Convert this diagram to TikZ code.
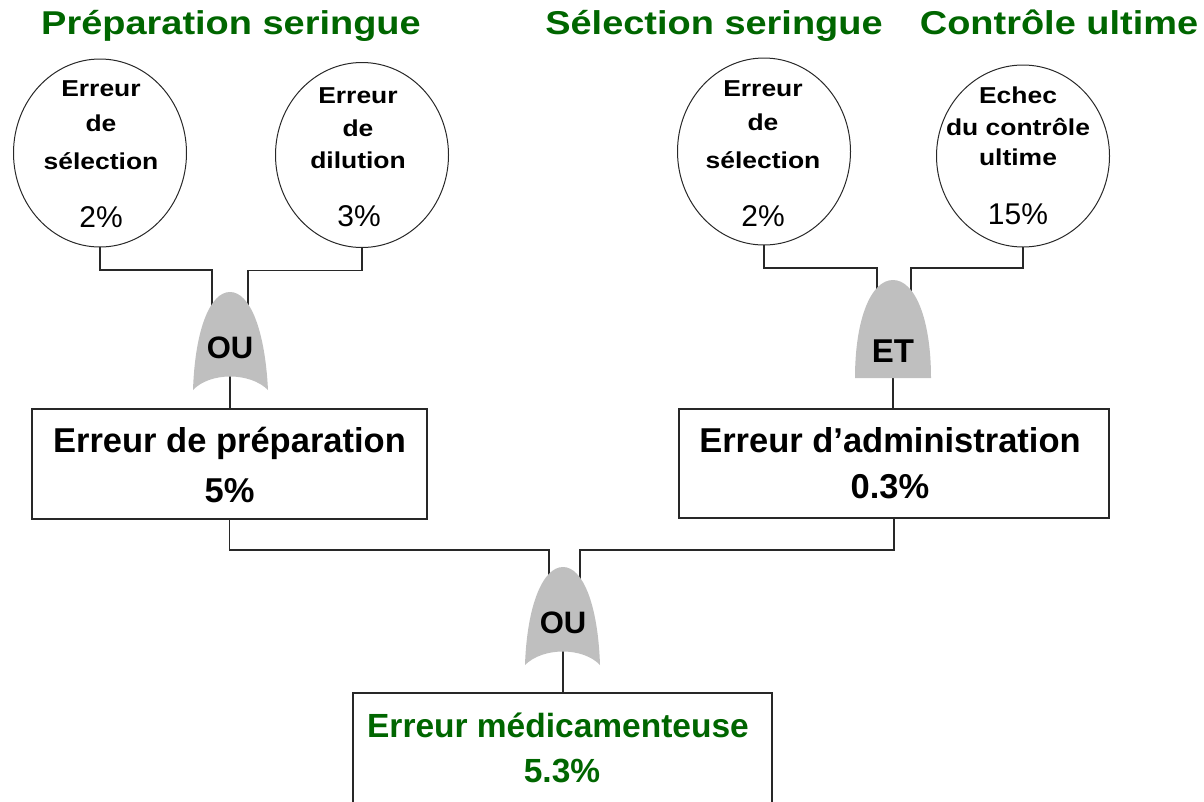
\documentclass[tikz,border=0pt]{standalone}
\usepackage{fontspec}
\setmainfont{Liberation Sans}
\newfontfamily\widesans[FakeStretch=1.15]{Liberation Sans}
\usetikzlibrary{shapes.geometric,backgrounds}
\definecolor{titlegreen}{RGB}{0,102,0}
\definecolor{gatefill}{RGB}{191,191,191}
\definecolor{linegray}{RGB}{40,40,40}
\begin{document}
\begin{tikzpicture}[x=1pt,y=-1pt,
  every node/.style={inner sep=0pt, outer sep=0pt},
  title/.style={anchor=base, text=titlegreen, font=\widesans\bfseries\fontsize{33}{36}\selectfont},
  event/.style={draw=linegray, line width=1pt, ellipse, minimum width=173pt},
  evtxt/.style={anchor=base, font=\widesans\bfseries\fontsize{23}{26}\selectfont},
  evpct/.style={anchor=base, font=\fontsize{30}{34}\selectfont},
  result/.style={draw=linegray, line width=1.3pt, rectangle, fill=white},
  restxt/.style={anchor=base, font=\bfseries\fontsize{34.5}{38}\selectfont},
  gatetxt/.style={anchor=base, font=\bfseries\fontsize{31}{34}\selectfont},
  link/.style={draw=linegray, line width=1.2pt},
  gateshape/.style={fill=gatefill, draw=none}
]
\useasboundingbox (0,0) rectangle (1204,801);
\clip (0,0) rectangle (1204,801);

% titles
\node[title] (t1) at (231,34) {Préparation seringue};
\node[title] (t2) at (714,34) {Sélection seringue};
\node[title] (t3) at (1059,34) {Contrôle ultime};

% basic events
\node[event, minimum height=188pt] (c1) at (100,153) {};
\node[event, minimum height=185pt] (c2) at (362,155) {};
\node[event, minimum height=187pt] (c3) at (764,151.5) {};
\node[event, minimum height=182pt] (c4) at (1023,156) {};

\node[evtxt] (c1l1) at (101,96) {Erreur};
\node[evtxt] (c1l2) at (101,131) {de};
\node[evtxt] (c1l3) at (101,169) {sélection};
\node[evpct] (c1p) at (101,227) {2\%};

\node[evtxt] (c2l1) at (358,103) {Erreur};
\node[evtxt] (c2l2) at (358,136) {de};
\node[evtxt] (c2l3) at (358,168) {dilution};
\node[evpct] (c2p) at (359,226) {3\%};

\node[evtxt] (c3l1) at (763,96) {Erreur};
\node[evtxt] (c3l2) at (763,130) {de};
\node[evtxt] (c3l3) at (763,168) {sélection};
\node[evpct] (c3p) at (763,226) {2\%};

\node[evtxt] (c4l1) at (1018,103) {Echec};
\node[evtxt] (c4l2) at (1018,135) {du contrôle};
\node[evtxt] (c4l3) at (1018,165) {ultime};
\node[evpct] (c4p) at (1018,224) {15\%};

% gates
\begin{scope}[shift={(230,341)}]
  \fill[gatefill] (-37,49) .. controls (-35,-11) and (-20,-49) .. (0,-49)
     .. controls (20,-49) and (35,-11) .. (38,49)
     .. controls (20,31) and (-20,31) .. (-37,49) -- cycle;
  \coordinate (g1inL) at (-18,-20);
  \coordinate (g1inR) at (18,-20);
  \coordinate (g1out) at (0,30);
  \node[gatetxt] (g1) at (0,17) {OU};
\end{scope}
\begin{scope}[shift={(893,329)}]
  \fill[gatefill] (-38,49) .. controls (-38,-10) and (-22,-49) .. (0,-49)
     .. controls (22,-49) and (38,-10) .. (38,49) -- cycle;
  \coordinate (g2inL) at (-16,-20);
  \coordinate (g2inR) at (18,-20);
  \coordinate (g2out) at (0,40);
  \node[gatetxt, font=\bfseries\fontsize{33}{36}\selectfont] (g2) at (0,33) {ET};
\end{scope}
\begin{scope}[shift={(563,616)}]
  \fill[gatefill] (-38,49) .. controls (-36,-11) and (-20,-49) .. (0,-49)
     .. controls (20,-49) and (35,-11) .. (37,49)
     .. controls (20,31) and (-20,31) .. (-38,49) -- cycle;
  \coordinate (g3inL) at (-14,-20);
  \coordinate (g3inR) at (17,-20);
  \coordinate (g3out) at (0,30);
  \node[gatetxt] (g3) at (0,17) {OU};
\end{scope}

% result boxes
\node[result, minimum width=395pt, minimum height=110pt] (b1) at (229.5,464) {};
\node[restxt] (b1l1) at (229.5,452) {Erreur de préparation};
\node[restxt] (b1l2) at (229.5,502) {5\%};

\node[result, minimum width=430pt, minimum height=109pt] (b2) at (894,463.5) {};
\node[restxt] (b2l1) at (890,452) {Erreur d’administration};
\node[restxt] (b2l2) at (890,498) {0.3\%};

\node[result, minimum width=419pt, minimum height=130pt] (b3) at (562.5,758) {};
\node[restxt, text=titlegreen, font=\bfseries\fontsize{33.5}{37}\selectfont] (b3l1) at (558,737) {Erreur médicamenteuse};
\node[restxt, text=titlegreen, font=\bfseries\fontsize{33.5}{37}\selectfont] (b3l2) at (562,782) {5.3\%};

% connectors
\begin{scope}[on background layer]
  \draw[link] (c1.south) -- ++(0,23) -| (g1inL);
  \draw[link] (c2.south) -- ++(0,23) -| (g1inR);
  \draw[link] (c3.south) -- ++(0,23) -| (g2inL);
  \draw[link] (c4.south) -- ++(0,21) -| (g2inR);
  \draw[link] (g1out) -- (g1out |- b1.north);
  \draw[link] (g2out) -- (g2out |- b2.north);
  \draw[link] (b1.south) -- ++(0,31) -| (g3inL);
  \draw[link] (b2.south) -- ++(0,32) -| (g3inR);
  \draw[link] (g3out) -- (g3out |- b3.north);
\end{scope}
\end{tikzpicture}
\end{document}
